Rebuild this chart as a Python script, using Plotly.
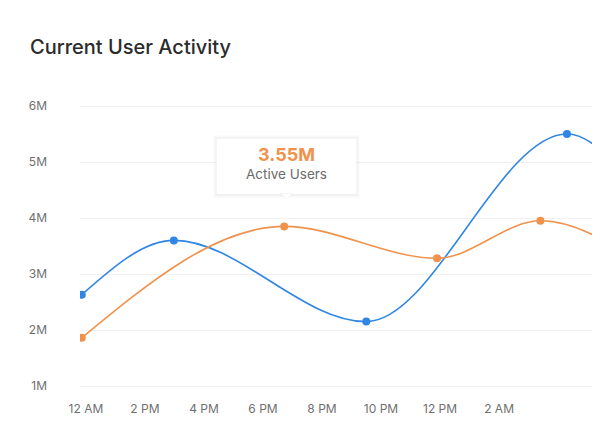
import plotly.graph_objects as go

# x positions in "hours" on the axis (ticks every 2), y in millions of users
# (the last point of each series sits just past the right edge of the chart)
blue_x = [-0.14, 2.98, 9.5, 16.3, 19.0]
blue_y = [2.63, 3.6, 2.15, 5.5, 4.27]
orange_x = [-0.14, 6.72, 11.9, 15.4, 18.8]
orange_y = [1.86, 3.85, 3.28, 3.95, 3.21]

tick_vals = [0, 2, 4, 6, 8, 10, 12, 14]
tick_text = ["12 AM", "2 PM", "4 PM", "6 PM", "8 PM", "10 PM", "12 PM", "2 AM"]
y_vals = [1, 2, 3, 4, 5, 6]
y_text = ["1M", "2M", "3M", "4M", "5M", "6M"]

tip_value = "3.55M"
tip_label = "Active Users"

BLUE = "#2f86e4"
ORANGE = "#f0924c"
FONT = "Inter"


def sign(v):
    return (v > 0) - (v < 0)


def monotone_path(xs, ys):
    # monotone-x cubic curve (same rule as d3.curveMonotoneX) as an svg path
    n = len(xs)
    h = [xs[i + 1] - xs[i] for i in range(n - 1)]
    s = [(ys[i + 1] - ys[i]) / h[i] for i in range(n - 1)]
    m = [0.0] * n
    for i in range(1, n - 1):
        p = (s[i - 1] * h[i] + s[i] * h[i - 1]) / (h[i - 1] + h[i])
        m[i] = (sign(s[i - 1]) + sign(s[i])) * min(abs(s[i - 1]), abs(s[i]), 0.5 * abs(p))
    m[0] = (3 * s[0] - m[1]) / 2
    m[-1] = (3 * s[-1] - m[-2]) / 2
    d = f"M {xs[0]},{ys[0]}"
    for i in range(n - 1):
        k = h[i] / 3
        d += (f" C {xs[i] + k},{ys[i] + k * m[i]} {xs[i + 1] - k},{ys[i + 1] - k * m[i + 1]}"
              f" {xs[i + 1]},{ys[i + 1]}")
    return d


fig = go.Figure()
for xs, ys, col in [(blue_x, blue_y, BLUE), (orange_x, orange_y, ORANGE)]:
    fig.add_shape(type="path", path=monotone_path(xs, ys), xref="x", yref="y",
                  line=dict(color=col, width=1.6), layer="between")
    fig.add_trace(go.Scatter(x=xs, y=ys, mode="markers",
                             marker=dict(color=col, size=8)))

# tooltip box anchored over the orange peak
tx = orange_x[1] + 0.08
hw = 2.37
y0, y1 = 4.43, 5.42
for pad, alpha in [(0.06, 0.012), (0.04, 0.02), (0.02, 0.03)]:
    fig.add_shape(type="rect", x0=tx - hw - pad * 2, x1=tx + hw + pad * 2,
                  y0=y0 - pad * 1.4, y1=y1 + pad,
                  line=dict(width=0), fillcolor=f"rgba(0,0,0,{alpha})", layer="above")
fig.add_shape(type="rect", x0=tx - hw, x1=tx + hw, y0=y0, y1=y1,
              line=dict(width=0), fillcolor="white", layer="above")
fig.add_shape(type="path", layer="above",
              path=f"M {tx-0.22},{y0+0.01} L {tx},{y0-0.09} L {tx+0.22},{y0+0.01} Z",
              fillcolor="white", line=dict(color="rgba(0,0,0,0.04)", width=1))
fig.add_annotation(x=tx, y=5.13, text=f"<b>{tip_value}</b>", showarrow=False,
                   font=dict(family=FONT, size=18, color=ORANGE))
fig.add_annotation(x=tx, y=4.78, text=tip_label, showarrow=False,
                   font=dict(family=FONT, size=13.5, color="#6b6b6b"))

# the page body has an 8px margin, so the figure is placed 8px in
fig.update_layout(
    width=592, height=424,
    paper_bgcolor="white", plot_bgcolor="white",
    showlegend=False,
    margin=dict(l=72, r=0, t=84, b=32),
    title=dict(text="Current User Activity", x=22 / 592, xref="container", xanchor="left",
               y=1 - 39 / 424, yanchor="middle",
               font=dict(family=FONT, size=20, color="#2b2b2b", weight=500)),
    font=dict(family=FONT),
)
fig.update_xaxes(range=[-0.2, 17.42], tickvals=tick_vals, ticktext=tick_text,
                 showgrid=False, zeroline=False, showline=False,
                 tickfont=dict(size=12, color="#707070"))
fig.update_yaxes(range=[0.75, 6.25], tickvals=y_vals, ticktext=y_text,
                 showgrid=True, gridcolor="#f0f0f0", gridwidth=1, zeroline=False,
                 ticklabelstandoff=32, tickfont=dict(size=12, color="#707070"))

fig.write_html("out.html")
